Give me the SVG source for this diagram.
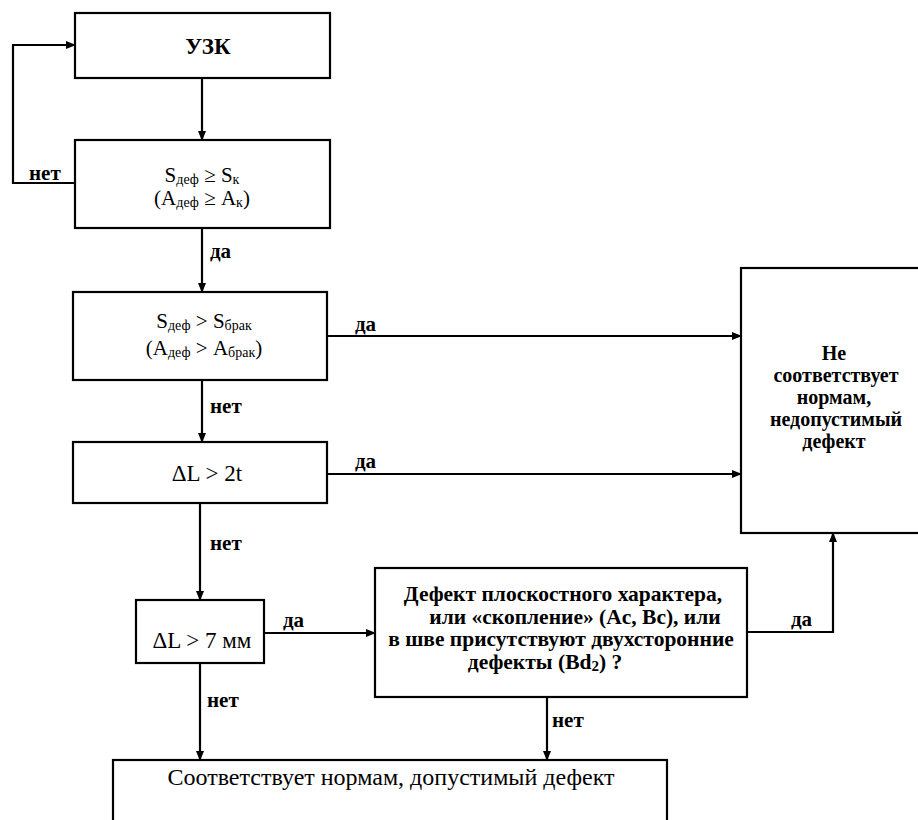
<svg xmlns="http://www.w3.org/2000/svg" width="918" height="820" viewBox="0 0 918 820" font-family="'Liberation Serif', 'Times New Roman', 'DejaVu Serif', serif">
<defs>
<marker id="ah" markerWidth="10" markerHeight="8" refX="9" refY="4" orient="auto" markerUnits="userSpaceOnUse">
<path d="M0,0 L10,4 L0,8 Z" fill="#000"/>
</marker>
<style>
.box{fill:#fff;stroke:#000;stroke-width:2.2}
.ln{fill:none;stroke:#000;stroke-width:2.2;marker-end:url(#ah)}
text{font-family:'Liberation Serif','Times New Roman','DejaVu Serif',serif;fill:#000}
.t{font-size:21px;text-anchor:middle}
.t23{font-size:23px}
.t24{font-size:24px}
.t20{font-size:20px}
.t22{font-size:21.5px}
.b{font-weight:bold}
.lbl{font-size:21px;font-weight:bold}
.sub{font-size:14px}
.sub2{font-size:15px}
</style>
</defs>
<rect width="918" height="820" fill="#fff"/>

<g id="connectors">
<path class="ln" d="M202,78 V140"/>
<path class="ln" d="M75,183 H13 V45 H75"/>
<path class="ln" d="M202,228 V292"/>
<path class="ln" d="M327,336 H741"/>
<path class="ln" d="M202,380 V442"/>
<path class="ln" d="M327,474 H741"/>
<path class="ln" d="M200,503 V600"/>
<path class="ln" d="M264,633 H375"/>
<path class="ln" d="M747,632 H833 V533"/>
<path class="ln" d="M200,663 V760"/>
<path class="ln" d="M547,697 V760"/>
<text class="lbl" x="29" y="180">нет</text>
<text class="lbl" x="210" y="258">да</text>
<text class="lbl" x="355" y="331">да</text>
<text class="lbl" x="210" y="413">нет</text>
<text class="lbl" x="355" y="468">да</text>
<text class="lbl" x="210" y="550">нет</text>
<text class="lbl" x="283" y="627">да</text>
<text class="lbl" x="791" y="626">да</text>
<text class="lbl" x="207" y="707">нет</text>
<text class="lbl" x="552" y="727">нет</text>
</g>

<g id="n1">
<rect class="box" x="75" y="13" width="255" height="65"/>
<text class="t t23 b" x="208" y="54">УЗК</text>
</g>

<g id="n2">
<rect class="box" x="75" y="140" width="255" height="88"/>
<text class="t" x="202" y="182">S<tspan class="sub" dy="2">деф</tspan><tspan dy="-2"> ≥ S</tspan><tspan class="sub" dy="2">к</tspan></text>
<text class="t" x="202" y="205">(A<tspan class="sub" dy="2">деф</tspan><tspan dy="-2"> ≥ A</tspan><tspan class="sub" dy="2">к</tspan><tspan dy="-2">)</tspan></text>
</g>

<g id="n3">
<rect class="box" x="73" y="292" width="254" height="88"/>
<text class="t" x="204" y="328">S<tspan class="sub" dy="2">деф</tspan><tspan dy="-2"> &gt; S</tspan><tspan class="sub" dy="2">брак</tspan></text>
<text class="t" x="204" y="355">(A<tspan class="sub" dy="2">деф</tspan><tspan dy="-2"> &gt; A</tspan><tspan class="sub" dy="2">брак</tspan><tspan dy="-2">)</tspan></text>
</g>

<g id="n4">
<rect class="box" x="73" y="442" width="254" height="61"/>
<text class="t t23" x="207" y="481">ΔL &gt; 2t</text>
</g>

<g id="n5">
<rect class="box" x="136" y="600" width="128" height="63"/>
<text class="t t23" x="202" y="648">ΔL &gt; 7 мм</text>
</g>

<g id="n6">
<rect class="box" x="375" y="568" width="372" height="129"/>
<text class="t t22 b" y="601"><tspan x="563">Дефект плоскостного характера,</tspan><tspan x="575" dy="22.5">или «скопление» (Ac, Bc), или</tspan><tspan x="561" dy="22.5">в шве присутствуют двухсторонние</tspan><tspan x="545" dy="22.5">дефекты (Bd</tspan><tspan class="sub2" dy="2">2</tspan><tspan dy="-2">) ?</tspan></text>
</g>

<g id="n7">
<rect class="box" x="741" y="268" width="200" height="265"/>
<text class="t t20 b" y="360"><tspan x="834">Не</tspan><tspan x="836" dy="22">соответствует</tspan><tspan x="834" dy="22">нормам,</tspan><tspan x="836" dy="22">недопустимый</tspan><tspan x="834" dy="22">дефект</tspan></text>
</g>

<g id="n8">
<rect class="box" x="113" y="760" width="554" height="80"/>
<text class="t t24" x="391" y="785">Соответствует нормам, допустимый дефект</text>
</g>
</svg>
